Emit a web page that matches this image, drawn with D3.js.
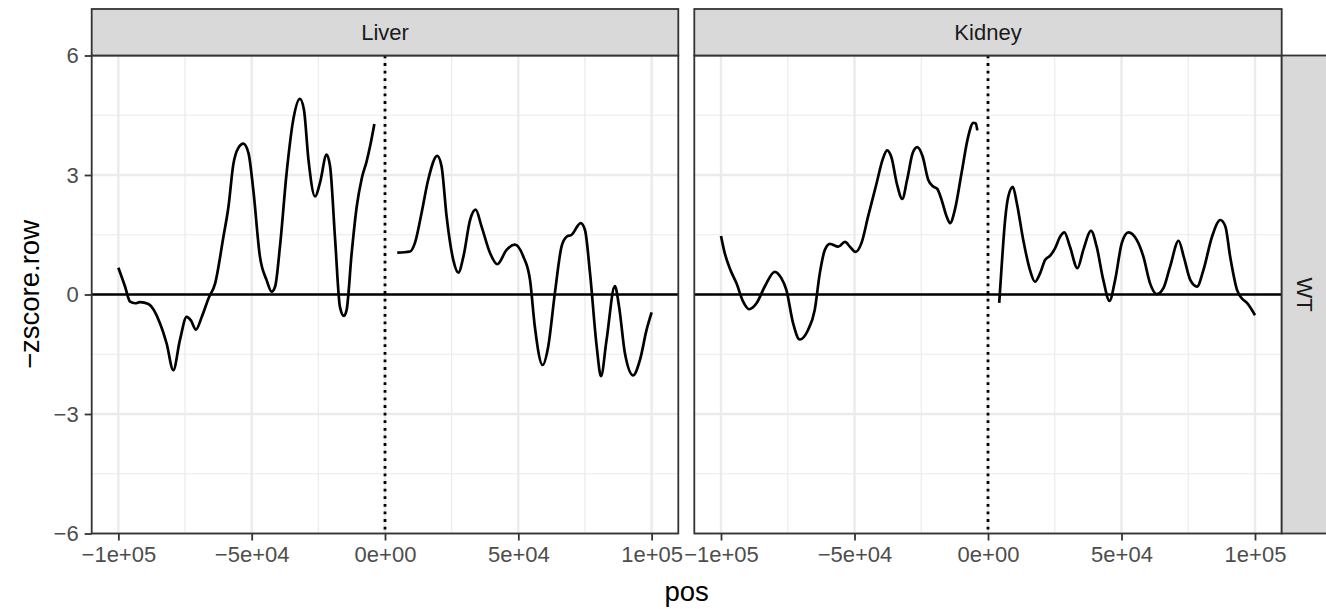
<!DOCTYPE html>
<html><head><meta charset="utf-8">
<script src="https://cdn.jsdelivr.net/npm/d3@7"></script>
<style>body{margin:0;background:#fff}svg{display:block}text{font-family:"Liberation Sans",Arial,Helvetica,sans-serif}</style>
</head><body><svg id="c" width="1326" height="609"></svg>
<script>
const panels = ["Liver", "Kidney"];
const rowStrip = "WT";
const xTicks = [-100000, -50000, 0, 50000, 100000];
const xTickLabels = ["\u22121e+05", "\u22125e+04", "0e+00", "5e+04", "1e+05"];
const xMinor = [-75000, -25000, 25000, 75000];
const yTicks = [-6, -3, 0, 3, 6];
const yTickLabels = ["\u22126", "\u22123", "0", "3", "6"];
const yMinor = [-4.5, -1.5, 1.5, 4.5];

// [pos, -zscore.row]
const liverLeft = [[-100000,0.67],[-97500,0.2],[-95600,-0.18],[-93700,-0.22],[-91900,-0.19],[-88700,-0.24],[-84400,-0.72],[-81900,-1.23],[-79400,-1.9],[-76900,-1.14],[-74400,-0.56],[-72800,-0.65],[-70900,-0.88],[-68700,-0.56],[-66200,-0.1],[-63700,0.28],[-60600,1.45],[-58700,2.21],[-56900,3.26],[-55000,3.68],[-53100,3.79],[-51200,3.55],[-49400,2.63],[-46900,0.95],[-44400,0.36],[-42500,0.07],[-41200,0.2],[-39400,1.2],[-36900,3.05],[-34400,4.39],[-31900,4.91],[-30400,4.64],[-28700,3.38],[-26200,2.46],[-24400,2.8],[-21900,3.51],[-20600,3.22],[-18700,1.37],[-16900,-0.31],[-15400,-0.54],[-14400,-0.39],[-12500,1.04],[-10600,2.21],[-8700,2.92],[-6900,3.34],[-5600,3.72],[-4000,4.28]];
const liverRight = [[4600,1.05],[9400,1.08],[11200,1.29],[13700,2.04],[16200,2.88],[19600,3.48],[21200,3.22],[23100,1.96],[25600,0.87],[27500,0.55],[29400,0.95],[31900,1.87],[34000,2.13],[36200,1.71],[39400,1.04],[42100,0.76],[45600,1.12],[48700,1.25],[51900,0.95],[54400,0.36],[56200,-0.81],[59100,-1.77],[61200,-1.31],[63700,0.03],[66200,1.2],[68100,1.45],[70000,1.5],[73400,1.79],[75000,1.62],[76900,0.53],[79400,-1.31],[81000,-2.05],[83100,-1.14],[86200,0.21],[87800,-0.31],[90000,-1.48],[93100,-2.03],[95600,-1.65],[98100,-0.89],[100000,-0.45]];
const kidneyLeft = [[-100000,1.47],[-98600,1.04],[-96500,0.62],[-94200,0.28],[-91700,-0.18],[-89500,-0.37],[-86700,-0.22],[-83600,0.2],[-79900,0.57],[-77400,0.41],[-75500,0.11],[-73000,-0.72],[-70500,-1.13],[-67400,-0.89],[-64900,-0.39],[-63000,0.53],[-61100,1.12],[-59200,1.27],[-56100,1.2],[-53600,1.32],[-51700,1.2],[-49600,1.07],[-47400,1.29],[-44900,1.96],[-41700,2.8],[-39500,3.38],[-37800,3.62],[-36100,3.43],[-34200,2.8],[-32100,2.4],[-30300,2.88],[-28200,3.55],[-26500,3.7],[-24500,3.47],[-22400,2.88],[-20500,2.71],[-19000,2.65],[-17400,2.38],[-15500,1.96],[-14200,1.79],[-12400,2.13],[-9900,3.05],[-7400,3.97],[-5500,4.31],[-4600,4.3],[-4000,4.12]];
const kidneyRight = [[4200,-0.21],[5100,0.7],[6400,1.87],[7600,2.46],[9300,2.7],[10800,2.29],[13200,1.37],[15700,0.62],[17600,0.32],[19500,0.53],[21400,0.87],[23200,0.97],[25100,1.16],[27000,1.45],[28600,1.56],[30700,1.2],[33500,0.66],[35700,1.12],[38600,1.6],[40700,1.2],[43200,0.36],[45500,-0.16],[47600,0.36],[50100,1.29],[52600,1.56],[55700,1.37],[58200,0.95],[60700,0.28],[63200,0.01],[65700,0.16],[68200,0.7],[71400,1.35],[73300,0.95],[75800,0.36],[78300,0.2],[80700,0.62],[83900,1.45],[87000,1.87],[88900,1.71],[90700,0.95],[93300,0.11],[95100,-0.1],[97000,-0.21],[98500,-0.35],[100000,-0.52]];
const panelSegments = [[liverLeft, liverRight], [kidneyLeft, kidneyRight]];

const svg = d3.select("#c");
const panelX = [[91.7, 678.3], [694.3, 1281.7]];
const yTop = 55.5, yBottom = 533.5;
const y = d3.scaleLinear().domain([-6, 6]).range([yBottom, yTop]);
const grey20 = "#333333";

panels.forEach((name, i) => {
  const [x0, x1] = panelX[i];
  const x = d3.scaleLinear().domain([-110000, 110000]).range([x0, x1]);
  const g = svg.append("g");
  g.append("rect").attr("x", x0).attr("y", yTop).attr("width", x1 - x0).attr("height", yBottom - yTop).attr("fill", "#fff");
  g.append("g").selectAll("line").data(xMinor).join("line").attr("x1", d => x(d)).attr("x2", d => x(d)).attr("y1", yTop).attr("y2", yBottom).attr("stroke", "#EBEBEB").attr("stroke-width", 1.2);
  g.append("g").selectAll("line").data(yMinor).join("line").attr("y1", d => y(d)).attr("y2", d => y(d)).attr("x1", x0).attr("x2", x1).attr("stroke", "#EBEBEB").attr("stroke-width", 1.2);
  g.append("g").selectAll("line").data(xTicks).join("line").attr("x1", d => x(d)).attr("x2", d => x(d)).attr("y1", yTop).attr("y2", yBottom).attr("stroke", "#EBEBEB").attr("stroke-width", 2.4);
  g.append("g").selectAll("line").data(yTicks).join("line").attr("y1", d => y(d)).attr("y2", d => y(d)).attr("x1", x0).attr("x2", x1).attr("stroke", "#EBEBEB").attr("stroke-width", 2.4);
  g.append("line").attr("x1", x0).attr("x2", x1).attr("y1", y(0)).attr("y2", y(0)).attr("stroke", "#000").attr("stroke-width", 2.7);
  g.append("line").attr("x1", x(0)).attr("x2", x(0)).attr("y1", yTop).attr("y2", yBottom).attr("stroke", "#000").attr("stroke-width", 2.8).attr("stroke-dasharray", "2.8,4.8");
  const line = d3.line().x(d => x(d[0])).y(d => y(d[1])).curve(d3.curveMonotoneX);
  panelSegments[i].forEach(seg => {
    g.append("path").attr("d", line(seg)).attr("fill", "none").attr("stroke", "#000").attr("stroke-width", 2.7).attr("stroke-linejoin", "round");
  });
  g.append("rect").attr("x", x0).attr("y", yTop).attr("width", x1 - x0).attr("height", yBottom - yTop).attr("fill", "none").attr("stroke", grey20).attr("stroke-width", 1.8);
  g.append("rect").attr("x", x0).attr("y", 9).attr("width", x1 - x0).attr("height", yTop - 9).attr("fill", "#D9D9D9").attr("stroke", grey20).attr("stroke-width", 1.8);
  g.append("text").attr("x", (x0 + x1) / 2).attr("y", 32).attr("dy", "0.35em").attr("text-anchor", "middle").attr("font-size", 22).attr("fill", "#1A1A1A").text(name);
  const ax = d3.axisBottom(x).tickValues(xTicks).tickFormat((d, k) => xTickLabels[k]).tickSize(7).tickPadding(6);
  const axg = svg.append("g").attr("transform", `translate(0,${yBottom})`).call(ax);
  axg.select(".domain").remove();
  axg.selectAll(".tick line").attr("stroke", grey20).attr("stroke-width", 1.8);
  axg.selectAll(".tick text").attr("font-size", 22).attr("fill", "#4D4D4D").attr("font-family", "Liberation Sans, Arial, sans-serif");
  if (i === 0) {
    const ay = d3.axisLeft(y).tickValues(yTicks).tickFormat((d, k) => yTickLabels[k]).tickSize(7).tickPadding(6);
    const ayg = svg.append("g").attr("transform", `translate(${x0},0)`).call(ay);
    ayg.select(".domain").remove();
    ayg.selectAll(".tick line").attr("stroke", grey20).attr("stroke-width", 1.8);
    ayg.selectAll(".tick text").attr("font-size", 22).attr("fill", "#4D4D4D").attr("font-family", "Liberation Sans, Arial, sans-serif");
  }
});

svg.append("rect").attr("x", 1281.7).attr("y", yTop).attr("width", 46).attr("height", yBottom - yTop).attr("fill", "#D9D9D9").attr("stroke", grey20).attr("stroke-width", 1.8);
svg.append("text").attr("transform", `translate(1305,${(yTop + yBottom) / 2}) rotate(90)`).attr("text-anchor", "middle").attr("dy", "0.35em").attr("font-size", 22).attr("fill", "#1A1A1A").text(rowStrip);

svg.append("text").attr("x", (panelX[0][0] + panelX[1][1]) / 2).attr("y", 601).attr("text-anchor", "middle").attr("font-size", 27.5).attr("fill", "#000").text("pos");
svg.append("text").attr("transform", `translate(29,${(yTop + yBottom) / 2}) rotate(-90)`).attr("text-anchor", "middle").attr("dy", "0.35em").attr("font-size", 27.5).attr("fill", "#000").text("\u2212zscore.row");
</script></body></html>
